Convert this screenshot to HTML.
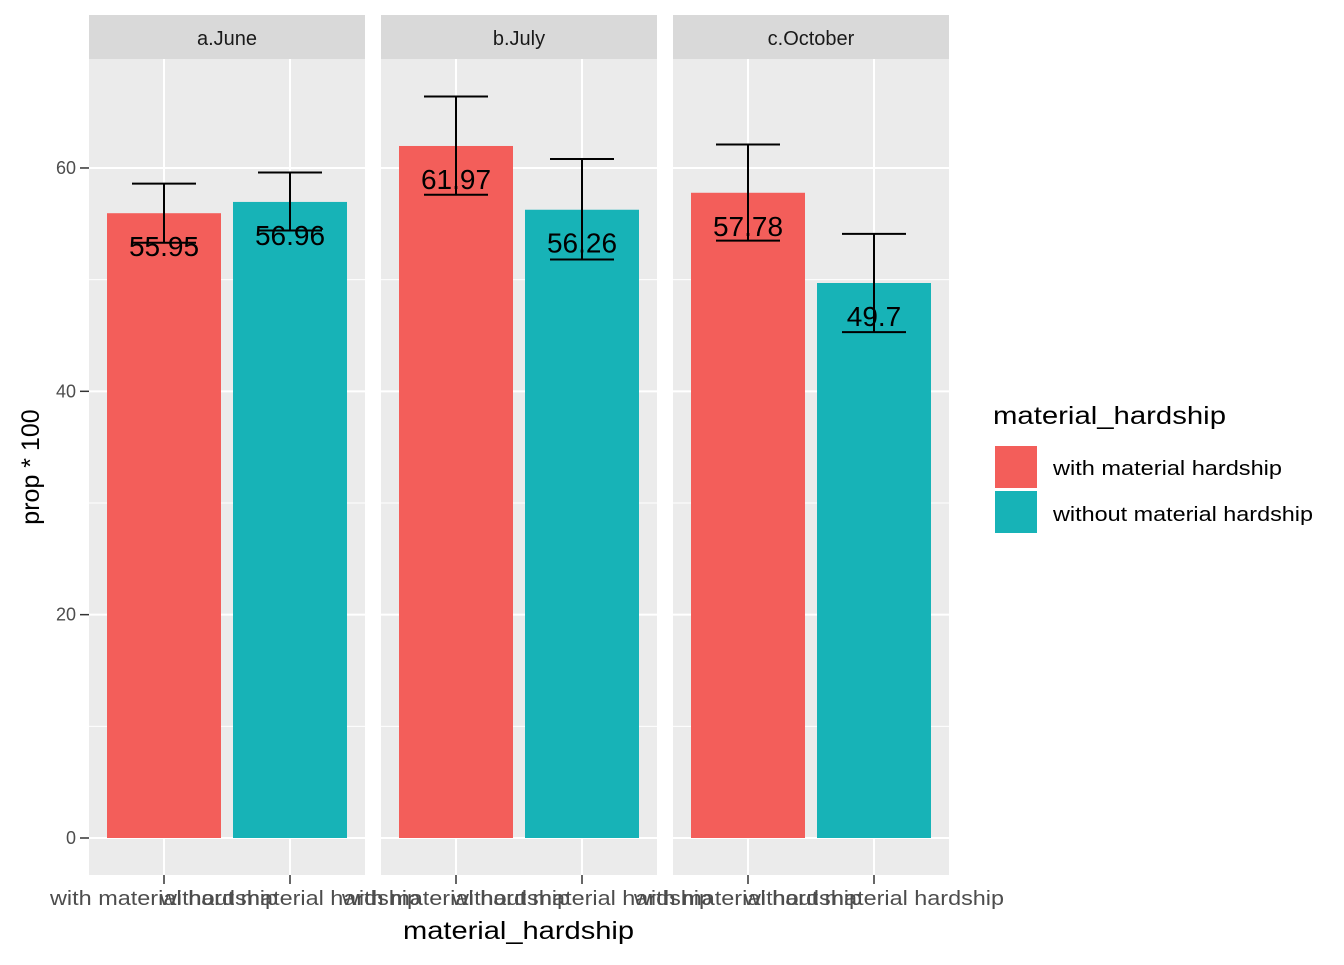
<!DOCTYPE html>
<html><head><meta charset="utf-8"><style>
body{margin:0;background:#fff;font-family:"Liberation Sans",sans-serif}
</style></head><body>
<svg id="c" width="1344" height="960" xmlns="http://www.w3.org/2000/svg" font-family="Liberation Sans, sans-serif"></svg>
<script>
const panels=["a.June","b.July","c.October"];
const categories=["with material hardship","without material hardship"];
const values=[[55.95,56.96],[61.97,56.26],[57.78,49.7]];
const upper=[[58.6,59.6],[66.4,60.8],[62.1,54.1]];
const lower=[[53.3,54.4],[57.6,51.8],[53.5,45.3]];
const yTicks=[0,20,40,60];
const colors=["#F35E5A","#17B3B7"];
const NS="http://www.w3.org/2000/svg";
const svg=document.getElementById('c');
function el(t,a,p){const e=document.createElementNS(NS,t);for(const k in a)e.setAttribute(k,a[k]);(p||svg).appendChild(e);return e;}
const y=v=>838-v*11.167;
const plotTop=59,plotBot=875,pw=276,px0=[89,381,673];
const bx=(p,i)=>px0[p]+75+i*126;
yTicks.forEach(t=>{
  const lab=el('text',{x:76,y:y(t)+6,'text-anchor':'end','font-size':18,fill:'#4d4d4d'});lab.textContent=t;
  
  
  el('line',{x1:80,x2:89,y1:y(t),y2:y(t),stroke:'#333','stroke-width':1.5});
});
panels.forEach((name,p)=>{
  const x0=px0[p];
  const g=el('g',{});
  
  
  el('rect',{x:x0,y:plotTop,width:pw,height:plotBot-plotTop,fill:'#EBEBEB'},g);
  el('rect',{x:x0,y:15,width:pw,height:44,fill:'#D9D9D9'},g);
  const st=el('text',{x:x0+pw/2,y:45,'text-anchor':'middle','font-size':20,fill:'#1a1a1a'},g);st.textContent=name;
  
  
  [10,30,50,70].forEach(t=>{if(y(t)>plotTop)el('line',{x1:x0,x2:x0+pw,y1:y(t),y2:y(t),stroke:'#fff','stroke-width':1},g);});
  yTicks.forEach(t=>el('line',{x1:x0,x2:x0+pw,y1:y(t),y2:y(t),stroke:'#fff','stroke-width':2},g));
  categories.forEach((c,i)=>{
    const cx=bx(p,i);
    el('line',{x1:cx,x2:cx,y1:plotTop,y2:plotBot,stroke:'#fff','stroke-width':2},g);
  });
  categories.forEach((c,i)=>{
    const cx=bx(p,i),v=values[p][i];
    const r=el('rect',{x:cx-57,y:y(v),width:114,height:y(0)-y(v),fill:colors[i]},g);
    
    
    el('line',{x1:cx,x2:cx,y1:y(upper[p][i]),y2:y(lower[p][i]),stroke:'#000','stroke-width':2},g);
    el('line',{x1:cx-32,x2:cx+32,y1:y(upper[p][i]),y2:y(upper[p][i]),stroke:'#000','stroke-width':2},g);
    el('line',{x1:cx-32,x2:cx+32,y1:y(lower[p][i]),y2:y(lower[p][i]),stroke:'#000','stroke-width':2},g);
    const t=el('text',{x:cx,y:y(v)+43,'text-anchor':'middle','font-size':28,fill:'#000'},g);t.textContent=String(v);
    
    
    el('line',{x1:cx,x2:cx,y1:plotBot,y2:plotBot+9,stroke:'#333','stroke-width':1.5},g);
    const xl=el('text',{x:cx,y:905,'text-anchor':'middle','font-size':20,fill:'#4d4d4d',textLength:i===0?228:260,lengthAdjust:'spacingAndGlyphs'},g);xl.textContent=c;
    
    
  });
});
</script>
<svg style="position:absolute;left:0;top:0" width="1344" height="960" xmlns="http://www.w3.org/2000/svg" font-family="Liberation Sans, sans-serif">
<text x="403" y="939" font-size="25" fill="#000" textLength="231" lengthAdjust="spacingAndGlyphs">material_hardship</text>
<text transform="translate(39,467) rotate(-90)" text-anchor="middle" font-size="25" fill="#000">prop * 100</text>
<g>
<text x="993" y="424" font-size="25" fill="#000" textLength="233" lengthAdjust="spacingAndGlyphs">material_hardship</text>
<rect x="994" y="445" width="44" height="44" fill="#F35E5A" stroke="#fff" stroke-width="2"/>
<rect x="994" y="490" width="44" height="44" fill="#17B3B7" stroke="#fff" stroke-width="2"/>
<text x="1053" y="475" font-size="20" fill="#000" textLength="229" lengthAdjust="spacingAndGlyphs">with material hardship</text>
<text x="1053" y="521" font-size="20" fill="#000" textLength="260" lengthAdjust="spacingAndGlyphs">without material hardship</text>
</g>
</svg>
</body></html>
